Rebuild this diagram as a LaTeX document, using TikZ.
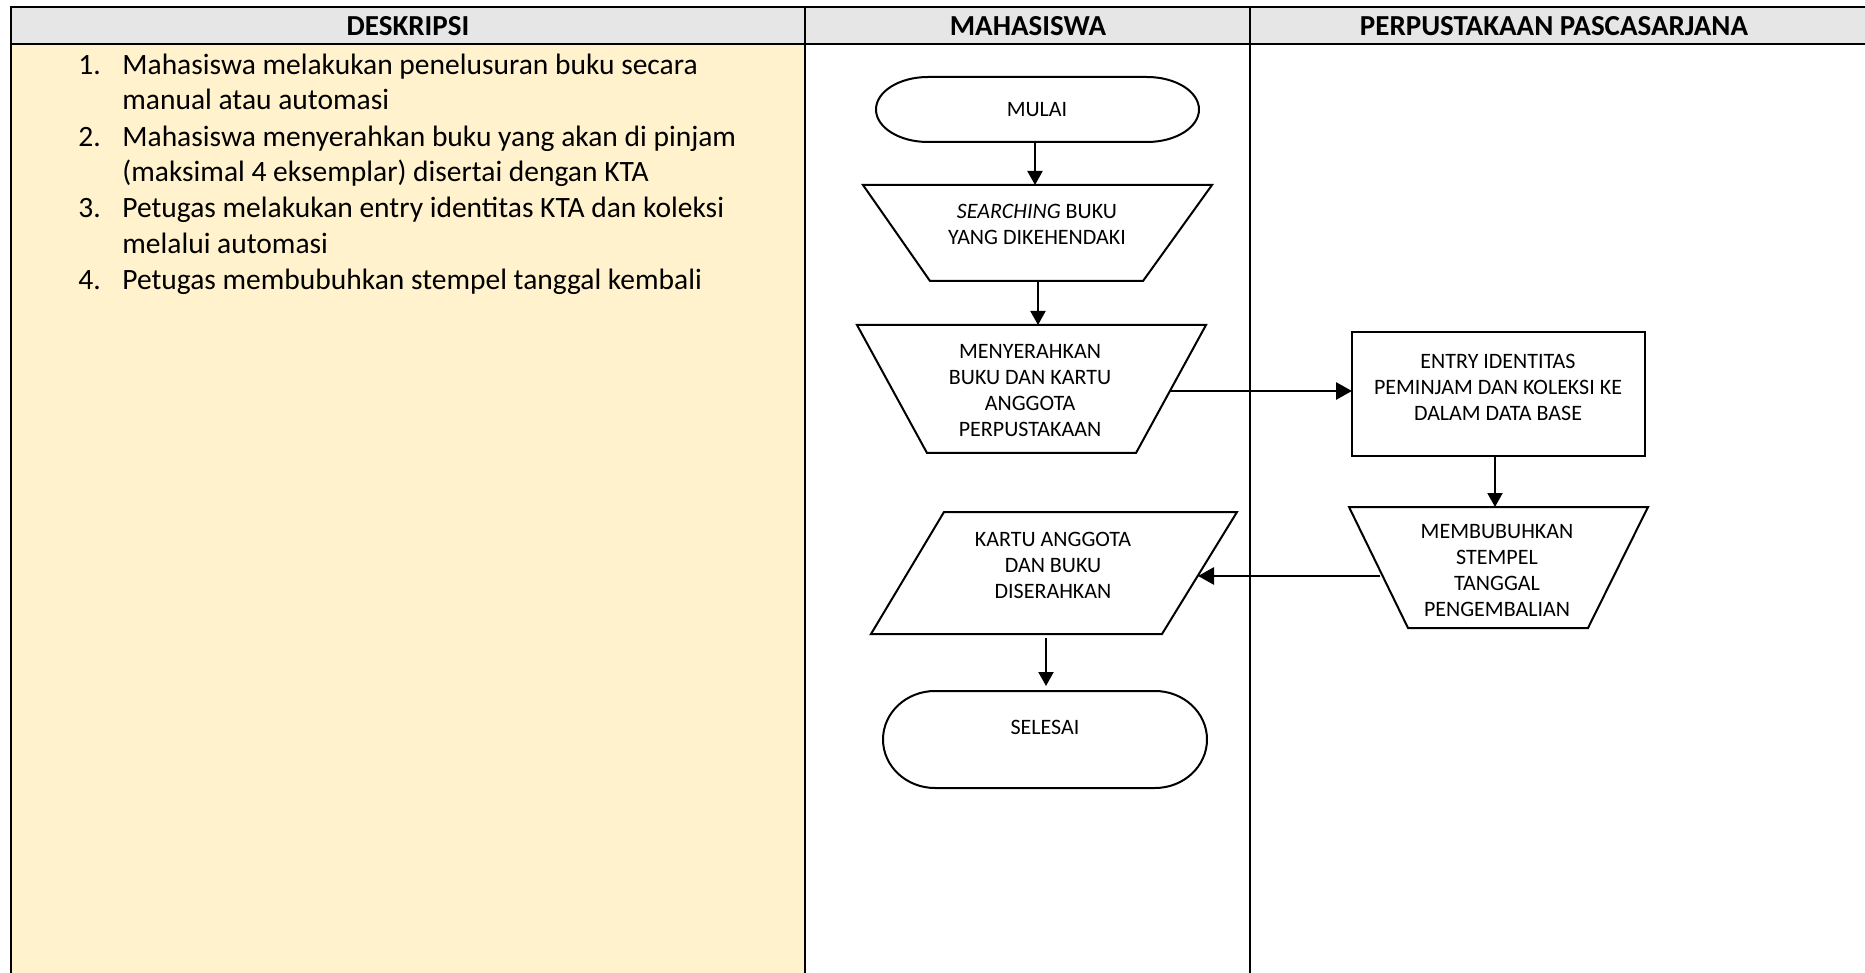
\documentclass[tikz,border=0pt]{standalone}
\usepackage{fontspec}
\setmainfont{Carlito}
\usetikzlibrary{arrows.meta,calc}
\definecolor{hdrgray}{HTML}{E7E6E6}
\definecolor{descbg}{HTML}{FFF2CC}
\tikzset{
  tline/.style={line width=1.1pt, line cap=rect},
  shapeline/.style={draw=black, line width=1pt, line join=miter},
  flowarrow/.style={line width=1pt, -{Triangle[length=7pt,width=7.5pt]}},
  flowarrowthick/.style={line width=1.4pt, -{Triangle[length=8pt,width=8.5pt]}},
  hdr/.style={font=\fontsize{14.5pt}{17pt}\selectfont\bfseries, inner sep=0pt},
  desc/.style={font=\fontsize{14.75pt}{17pt}\selectfont, anchor=base west, inner sep=0pt},
  ftext/.style={font=\fontsize{11pt}{13pt}\selectfont, align=center, inner sep=0pt},
}
\begin{document}
\begin{tikzpicture}[x=0.5pt,y=-0.5pt]
\useasboundingbox (0,0) rectangle (1865,973);
% table background
\fill[hdrgray] (11,7) rectangle (1865,44);
\fill[descbg] (11,44) rectangle (805,973);
% table lines
\draw[tline] (11,7) -- (1866,7);
\draw[tline] (11,44) -- (1866,44);
\draw[tline] (11,7) -- (11,974);
\draw[tline] (805,7) -- (805,974);
\draw[tline] (1250,7) -- (1250,974);
% headers
\node[hdr] (h1) at (408,26) {DESKRIPSI};
\node[hdr] (h2) at (1028,26) {MAHASISWA};
\node[hdr] (h3) at (1554,26) {PERPUSTAKAAN PASCASARJANA};
% description
\node[desc] (n1) at (78,74.5) {1.};
\node[desc] (d1a) at (122,74.5) {Mahasiswa melakukan penelusuran buku secara};
\node[desc] (d1b) at (122,110) {manual atau automasi};
\node[desc] (n2) at (78,146.5) {2.};
\node[desc] (d2a) at (122,146.5) {Mahasiswa menyerahkan buku yang akan di pinjam};
\node[desc] (d2b) at (122,182) {(maksimal 4 eksemplar) disertai dengan KTA};
\node[desc] (n3) at (78,218) {3.};
\node[desc] (d3a) at (122,218) {Petugas melakukan entry identitas KTA dan koleksi};
\node[desc] (d3b) at (122,253.5) {melalui automasi};
\node[desc] (n4) at (78,289.5) {4.};
\node[desc] (d4a) at (122,289.5) {Petugas membubuhkan stempel tanggal kembali};
% MULAI terminator
\draw[shapeline] (928,77) -- (1147,77)
  arc[start angle=-90,end angle=90,x radius=52,y radius=32.5] -- (928,142)
  arc[start angle=90,end angle=270,x radius=52,y radius=32.5] -- cycle;
\node[ftext] (mulai) at (1037,110) {MULAI};
% SEARCHING trapezium
\draw[shapeline] (863,185) -- (1212,185) -- (1143,281) -- (930,281) -- cycle;
\node[ftext] (search) at (1037,224) {{\itshape SEARCHING} BUKU\\YANG DIKEHENDAKI};
% MENYERAHKAN trapezium
\draw[shapeline] (857,325) -- (1206,325) -- (1136,453) -- (927,453) -- cycle;
\node[ftext] (serah) at (1030,390.5) {MENYERAHKAN\\BUKU DAN KARTU\\ANGGOTA\\PERPUSTAKAAN};
% ENTRY rectangle
\draw[shapeline] (1352,332) rectangle (1645,456);
\node[ftext] (entry) at (1498,387) {ENTRY IDENTITAS\\PEMINJAM DAN KOLEKSI KE\\DALAM DATA BASE};
% MEMBUBUHKAN trapezium
\draw[shapeline] (1349,507) -- (1648,507) -- (1588,628) -- (1408,628) -- cycle;
\node[ftext] (stempel) at (1497,570.5) {MEMBUBUHKAN\\STEMPEL\\TANGGAL\\PENGEMBALIAN};
% KARTU parallelogram
\draw[shapeline] (944,512) -- (1237,512) -- (1162,634) -- (871,634) -- cycle;
\node[ftext] (kartu) at (1053,565.5) {KARTU ANGGOTA\\DAN BUKU\\DISERAHKAN};
% SELESAI terminator
\draw[shapeline] (935,691) -- (1155,691)
  arc[start angle=-90,end angle=90,x radius=52,y radius=48.5] -- (935,788)
  arc[start angle=90,end angle=270,x radius=52,y radius=48.5] -- cycle;
\node[ftext] (selesai) at (1045,727) {SELESAI};
% connector end points
\coordinate (mulaiS) at (1035,142);
\coordinate (searchN) at (1035,185);
\coordinate (searchS) at (1038,281);
\coordinate (serahN) at (1038,325);
\coordinate (serahE) at (1170,391);
\coordinate (entryW) at (1352,391);
\coordinate (entryS) at (1495,456);
\coordinate (stempelN) at (1495,507);
\coordinate (stempelW) at (1380,576);
\coordinate (kartuE) at (1198,576);
\coordinate (kartuS) at (1046,638);
\coordinate (selesaiN) at (1046,686);
% connectors
\draw[flowarrow] (mulaiS) -- (searchN);
\draw[flowarrow] (searchS) -- (serahN);
\draw[flowarrowthick] (serahE) -- (entryW);
\draw[flowarrow] (entryS) -- (stempelN);
\draw[flowarrowthick] (stempelW) -- (kartuE);
\draw[flowarrow] (kartuS) -- (selesaiN);
\end{tikzpicture}
\end{document}
